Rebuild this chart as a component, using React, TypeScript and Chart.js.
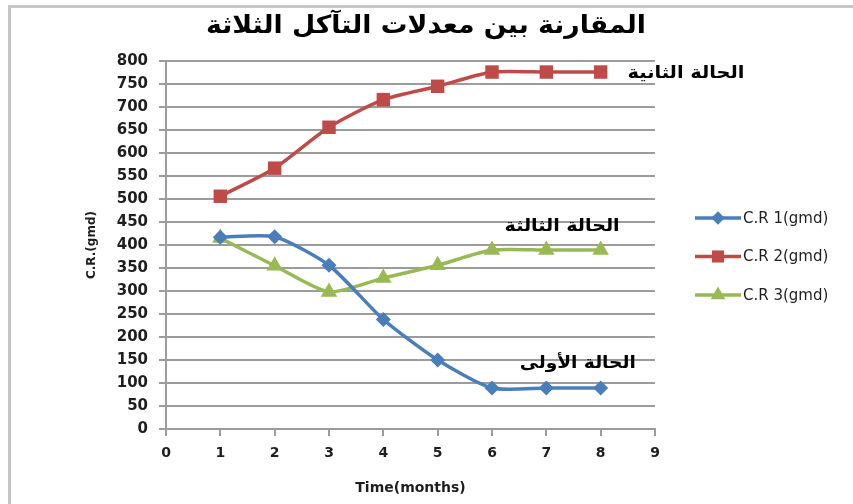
import React, { useEffect, useRef } from "react";
import { Chart, registerables } from "chart.js";

Chart.register(...registerables);

// ---- data ----
const months = [1, 2, 3, 4, 5, 6, 7, 8];
const cr1 = [417, 418, 356, 238, 150, 89, 89, 89];
const cr2 = [506, 567, 656, 716, 745, 776, 776, 776];
const cr3 = [415, 355, 298, 328, 356, 389, 389, 389];
const seriesNames = ["C.R 1(gmd)", "C.R 2(gmd)", "C.R 3(gmd)"];
const xTickValues = [0, 1, 2, 3, 4, 5, 6, 7, 8, 9];
const yTickStep = 50;
const yMax = 800;
const titleText = "المقارنة بين معدلات التآكل الثلاثة";
const xTitle = "Time(months)";
const yTitle = "C.R.(gmd)";
const caseLabels = ["الحالة الأولى", "الحالة الثانية", "الحالة الثالثة"];

// ---- styling / layout ----
const colors = ["#4A7EBB", "#BE4B48", "#98B954"];
const pointStyles = ["rectRot", "rect", "triangle"] as const;
const pointRadii = [7.5, 9.5, 9.5];
const gridColor = "#9c9c9c";
const textColor = "#1e1e1e";
// label anchors in data units (x, y) and target widths
const caseAnchorX = [7.58, 9.57, 7.29];
const caseAnchorY = [143, 773, 441];
const caseWidths = [116, 117, 115];

function drawMarker(ctx: CanvasRenderingContext2D, style: string, x: number, y: number, r: number) {
  ctx.beginPath();
  if (style === "rect") {
    const s = r * Math.SQRT1_2;
    ctx.rect(x - s, y - s, 2 * s, 2 * s);
  } else if (style === "rectRot") {
    ctx.moveTo(x, y - r);
    ctx.lineTo(x + r, y);
    ctx.lineTo(x, y + r);
    ctx.lineTo(x - r, y);
    ctx.closePath();
  } else {
    const w = (r * Math.sqrt(3)) / 2;
    ctx.moveTo(x, y - r);
    ctx.lineTo(x + w, y + r / 2);
    ctx.lineTo(x - w, y + r / 2);
    ctx.closePath();
  }
  ctx.fill();
}

function fitText(ctx: CanvasRenderingContext2D, text: string, cx: number, cy: number, width: number) {
  const m = ctx.measureText(text).width;
  const sx = width / m;
  ctx.save();
  ctx.translate(cx, cy);
  ctx.scale(sx, 1);
  ctx.textAlign = "center";
  ctx.textBaseline = "middle";
  ctx.fillText(text, 0, 0);
  ctx.restore();
}

const decorPlugin = {
  id: "decor",
  beforeDraw(chart: any) {
    const { ctx, width, height } = chart;
    ctx.save();
    ctx.fillStyle = "#ffffff";
    ctx.fillRect(0, 0, width, height);
    ctx.strokeStyle = "#c6c6c6";
    ctx.lineWidth = 3;
    ctx.beginPath();
    ctx.moveTo(9.5, height);
    ctx.lineTo(9.5, 6.5);
    ctx.lineTo(width, 6.5);
    ctx.stroke();
    ctx.restore();
  },
  afterDraw(chart: any) {
    const { ctx, chartArea } = chart;
    const xs = chart.scales.x;
    const ys = chart.scales.y;
    ctx.save();
    // title
    ctx.fillStyle = "#000000";
    ctx.font = "bold 25px 'DejaVu Sans'";
    fitText(ctx, titleText, 426, 26, 440);
    // case labels
    ctx.font = "bold 17px 'DejaVu Sans'";
    caseLabels.forEach((t, i) => {
      fitText(ctx, t, xs.getPixelForValue(caseAnchorX[i]), ys.getPixelForValue(caseAnchorY[i]), caseWidths[i]);
    });
    // legend
    const lx = chartArea.right + 40;
    const ly0 = 218;
    const dy = 38.5;
    ctx.font = "15px 'DejaVu Sans'";
    ctx.textAlign = "left";
    ctx.textBaseline = "middle";
    seriesNames.forEach((name, i) => {
      const y = ly0 + i * dy;
      ctx.strokeStyle = colors[i];
      ctx.fillStyle = colors[i];
      ctx.lineWidth = 3.5;
      ctx.beginPath();
      ctx.moveTo(lx, y);
      ctx.lineTo(lx + 46, y);
      ctx.stroke();
      drawMarker(ctx, pointStyles[i], lx + 23, y, pointRadii[i] * 0.9);
      ctx.fillStyle = textColor;
      ctx.fillText(name, lx + 48, y + 1);
    });
    ctx.restore();
  },
};

export default function App() {
  const ref = useRef<HTMLCanvasElement | null>(null);
  useEffect(() => {
    if (!ref.current) return;
    const series = [cr1, cr2, cr3];
    const chart = new Chart(ref.current, {
      type: "line",
      data: {
        datasets: series.map((vals, i) => ({
          label: seriesNames[i],
          data: months.map((m, j) => ({ x: m, y: vals[j] })),
          borderColor: colors[i],
          backgroundColor: colors[i],
          borderWidth: 3.5,
          pointStyle: pointStyles[i],
          pointRadius: pointRadii[i],
          pointBorderWidth: 0,
          pointBackgroundColor: colors[i],
          tension: 0.22,
          fill: false,
        })),
      },
      options: {
        animation: false,
        responsive: false,
        events: [],
        layout: { padding: { left: 80, top: 61, right: 198, bottom: 0 } },
        plugins: {
          legend: { display: false },
          title: { display: false },
          tooltip: { enabled: false },
        },
        scales: {
          x: {
            type: "linear",
            min: 0,
            max: 9,
            afterFit: (s: any) => {
              s.height = 75;
            },
            afterBuildTicks: (s: any) => {
              s.ticks = xTickValues.map((v) => ({ value: v }));
            },
            ticks: {
              stepSize: 1,
              color: textColor,
              font: { family: "'DejaVu Sans'", size: 14, weight: "bold" },
              padding: 9,
              autoSkip: false,
              maxRotation: 0,
            },
            grid: {
              drawOnChartArea: false,
              drawTicks: true,
              tickLength: 7,
              tickColor: gridColor,
              lineWidth: 2,
            },
            border: { display: true, color: gridColor, width: 2 },
            title: {
              display: true,
              text: xTitle,
              color: textColor,
              font: { family: "'DejaVu Sans'", size: 14, weight: "bold" },
              padding: { top: 0, bottom: 7 },
            },
          },
          y: {
            type: "linear",
            min: 0,
            max: yMax,
            afterFit: (s: any) => {
              s.width = 86;
            },
            ticks: {
              stepSize: yTickStep,
              color: textColor,
              font: { family: "'DejaVu Sans'", size: 15, weight: "bold" },
              padding: 11,
              autoSkip: false,
            },
            grid: {
              color: gridColor,
              lineWidth: 2,
              drawTicks: true,
              tickLength: 7,
              tickColor: gridColor,
            },
            border: { display: true, color: gridColor, width: 2 },
            title: {
              display: true,
              text: yTitle,
              color: textColor,
              font: { family: "'DejaVu Sans'", size: 12, weight: "bold" },
              padding: { top: 5, bottom: 0 },
            },
          },
        },
      },
      plugins: [decorPlugin],
    });
    return () => chart.destroy();
  }, []);
  return (
    <div style={{ position: "absolute", left: 0, top: 0, width: 853, height: 504 }}>
      <canvas ref={ref} width={853} height={504} style={{ display: "block", width: 853, height: 504 }} />
    </div>
  );
}
